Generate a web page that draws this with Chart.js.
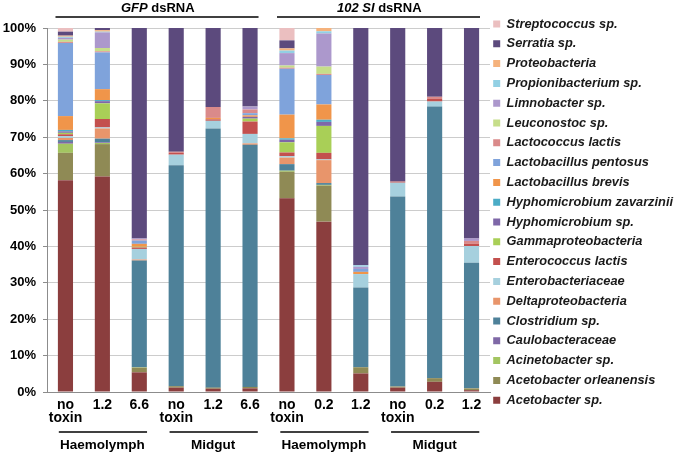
<!DOCTYPE html>
<html>
<head>
<meta charset="utf-8">
<script src="https://cdn.jsdelivr.net/npm/chart.js@4.4.1/dist/chart.umd.min.js"></script>
<style>
  html, body { margin: 0; padding: 0; background: #fff; }
  #wrap { width: 677px; height: 454px; }
</style>
</head>
<body>
<div id="wrap"><canvas id="chart" width="677" height="454"></canvas></div>
<script>
// Category labels (x axis)
const categories = [
  ['no', 'toxin'], '1.2', '6.6',
  ['no', 'toxin'], '1.2', '6.6',
  ['no', 'toxin'], '0.2', '1.2',
  ['no', 'toxin'], '0.2', '1.2'
];

// Group labels
const treatmentNames = [['GFP', ' dsRNA'], ['102 SI', ' dsRNA']];
const treatmentSpans = [[0, 5], [6, 11]];
const tissueNames = ['Haemolymph', 'Midgut', 'Haemolymph', 'Midgut'];
const tissueSpans = [[0, 2], [3, 5], [6, 8], [9, 11]];

// Y ticks
const yTicks = [0, 10, 20, 30, 40, 50, 60, 70, 80, 90, 100];

// Relative abundance (%) per bar, stack order bottom -> top
const acetobacterSp        = [58.2, 59.2, 5.4, 1.2, 0.9, 1.0, 53.2, 46.8, 5.1, 1.2, 2.8, 0.5];
const acetobacterOrleanens = [7.5, 8.9, 1.3, 0.4, 0.3, 0.4, 7.3, 9.9, 1.7, 0.3, 1.0, 0.5];
const acinetobacterSp      = [2.5, 0.3, 0.1, 0, 0, 0, 0.3, 0.2, 0, 0, 0, 0];
const caulobacteraceae     = [0.5, 0.2, 0, 0, 0, 0, 0, 0, 0, 0, 0, 0];
const clostridiumSp        = [0.5, 1.0, 29.3, 60.7, 71.2, 66.5, 1.8, 0.5, 21.9, 52.2, 74.6, 34.5];
const deltaproteobacteria  = [0.6, 2.8, 0.3, 0, 0, 0.4, 1.8, 6.3, 0, 0, 0, 0];
const enterobacteriaceae   = [0.5, 0.3, 2.9, 2.9, 2.1, 2.6, 0.4, 0.2, 3.7, 3.8, 1.4, 4.6];
const enterococcusLactis   = [0.5, 2.3, 0.4, 0.5, 0.4, 3.4, 1.0, 1.8, 0, 0.3, 0.7, 0.6];
const gammaproteobacteria  = [0.4, 4.3, 0.2, 0, 0, 0.8, 2.8, 7.4, 0, 0, 0, 0];
const hyphomicrobiumSp     = [0.4, 0.6, 0, 0, 0, 0.5, 0.7, 1.1, 0, 0, 0, 0];
const hyphoZavarzinii      = [0.4, 0.3, 0, 0, 0, 0, 0.4, 0.6, 0, 0, 0, 0];
const lactobacillusBrevis  = [3.8, 3.0, 0.8, 0, 0.4, 0.4, 6.5, 4.2, 0.6, 0, 0, 0];
const lactobacillusPent    = [20.1, 10.1, 0.9, 0, 0, 0.6, 12.6, 8.1, 0.8, 0, 0, 0];
const lactococcusLactis    = [0.3, 0.3, 0.3, 0.3, 3.0, 1.0, 0.3, 0.3, 0, 0, 0.6, 0.8];
const leuconostocSp        = [0.6, 0.9, 0, 0, 0, 0, 0.6, 2.0, 0, 0, 0, 0];
const limnobacterSp        = [0.5, 4.3, 0.3, 0, 0, 0.8, 3.4, 9.1, 0.6, 0, 0, 0.7];
const propionibacteriumSp  = [0.3, 0.2, 0, 0, 0, 0, 0.7, 0.6, 0.4, 0, 0, 0];
const proteobacteria       = [0.3, 0.4, 0, 0, 0, 0, 0.6, 0.9, 0, 0, 0, 0];
const serratiaSp           = [1.1, 0.6, 57.8, 34.0, 21.7, 21.6, 2.2, 0, 65.2, 42.2, 18.9, 57.8];
const streptococcusSp      = [1.0, 0, 0, 0, 0, 0, 3.4, 0, 0, 0, 0, 0];

const seriesNames = [
  'Acetobacter sp.', 'Acetobacter orleanensis', 'Acinetobacter sp.', 'Caulobacteraceae',
  'Clostridium sp.', 'Deltaproteobacteria', 'Enterobacteriaceae', 'Enterococcus lactis',
  'Gammaproteobacteria', 'Hyphomicrobium sp.', 'Hyphomicrobium zavarzinii', 'Lactobacillus brevis',
  'Lactobacillus pentosus', 'Lactococcus lactis', 'Leuconostoc sp.', 'Limnobacter sp.',
  'Propionibacterium sp.', 'Proteobacteria', 'Serratia sp.', 'Streptococcus sp.'
];
const seriesValues = [
  acetobacterSp, acetobacterOrleanens, acinetobacterSp, caulobacteraceae,
  clostridiumSp, deltaproteobacteria, enterobacteriaceae, enterococcusLactis,
  gammaproteobacteria, hyphomicrobiumSp, hyphoZavarzinii, lactobacillusBrevis,
  lactobacillusPent, lactococcusLactis, leuconostocSp, limnobacterSp,
  propionibacteriumSp, proteobacteria, serratiaSp, streptococcusSp
];
const seriesColors = [
  '#8B3E3E', '#8F8A55', '#A3C561', '#7F68A6',
  '#4E8199', '#E8956B', '#A6D0DE', '#C3504E',
  '#A9CF57', '#7E67A8', '#4BACC6', '#F0954A',
  '#7FA3DB', '#DA8A8A', '#C6DE8A', '#AC98CC',
  '#92D0E4', '#F5B27C', '#5C4A7D', '#EBBFC0'
];

const FONT = '"Liberation Sans", Arial, sans-serif';

// Nudge the legend's left edge a little so the long names fit
const legendShift = {
  id: 'legendShift',
  afterLayout(chart) {
    if (chart.legend) {
      chart.legend.left -= 3.8;
      chart.legend.width += 3.8;
    }
  }
};

// Draw treatment / tissue group labels with their bracket lines
const groupLabels = {
  id: 'groupLabels',
  afterDraw(chart) {
    const ctx = chart.ctx;
    const xs = chart.scales.x;
    const step = xs.getPixelForValue(1) - xs.getPixelForValue(0);
    ctx.save();
    ctx.strokeStyle = '#000';
    ctx.fillStyle = '#000';
    ctx.lineWidth = 1.5;
    ctx.textBaseline = 'middle';

    // top: treatments
    treatmentSpans.forEach((span, i) => {
      const x0 = xs.getPixelForValue(span[0]) - step * 0.27;
      const x1 = xs.getPixelForValue(span[1]) + step * 0.23;
      ctx.beginPath();
      ctx.moveTo(x0, 17);
      ctx.lineTo(x1, 17);
      ctx.stroke();
      const [italicPart, plainPart] = treatmentNames[i];
      ctx.font = 'italic bold 13px ' + FONT;
      const w1 = ctx.measureText(italicPart).width;
      ctx.font = 'bold 13px ' + FONT;
      const w2 = ctx.measureText(plainPart).width;
      const start = (xs.getPixelForValue(span[0]) + xs.getPixelForValue(span[1])) / 2 - (w1 + w2) / 2;
      ctx.textAlign = 'left';
      ctx.font = 'italic bold 13px ' + FONT;
      ctx.fillText(italicPart, start, 8.5);
      ctx.font = 'bold 13px ' + FONT;
      ctx.fillText(plainPart, start + w1, 8.5);
    });

    // bottom: tissues
    ctx.font = 'bold 13.5px ' + FONT;
    ctx.textAlign = 'center';
    tissueSpans.forEach((span, i) => {
      const x0 = xs.getPixelForValue(span[0]) - step * 0.18;
      const x1 = xs.getPixelForValue(span[1]) + step * 0.21;
      ctx.beginPath();
      ctx.moveTo(x0, 432);
      ctx.lineTo(x1, 432);
      ctx.stroke();
      const mid = (xs.getPixelForValue(span[0]) + xs.getPixelForValue(span[1])) / 2;
      ctx.fillText(tissueNames[i], mid, 445.5);
    });
    ctx.restore();
  }
};

const datasets = seriesNames.map((name, i) => ({
  label: name,
  data: seriesValues[i],
  backgroundColor: seriesColors[i],
  borderWidth: 0,
  categoryPercentage: 1.0,
  barPercentage: 0.41
}));

new Chart(document.getElementById('chart'), {
  type: 'bar',
  data: { labels: categories, datasets: datasets },
  plugins: [legendShift, groupLabels],
  options: {
    responsive: false,
    animation: false,
    layout: { padding: { top: 10.6, right: 0, bottom: 0, left: 0 } },
    plugins: {
      title: {
        display: true,
        text: '',
        fullSize: false,
        font: { size: 10, lineHeight: 1 },
        padding: { top: 0, bottom: 7.4 }
      },
      legend: {
        position: 'right',
        align: 'start',
        reverse: true,
        maxWidth: 187,
        labels: {
          boxWidth: 7,
          boxHeight: 7,
          padding: 7,
          color: '#1a1a1a',
          font: { family: FONT, size: 12.8, style: 'italic', weight: 'bold' }
        }
      },
      tooltip: { enabled: false }
    },
    scales: {
      x: {
        stacked: true,
        grid: { display: false, drawTicks: false },
        border: { display: true, color: '#8c8c8c', width: 1 },
        ticks: {
          color: '#000',
          maxRotation: 0,
          autoSkip: false,
          padding: 6,
          font: { family: FONT, size: 14, weight: 'bold', lineHeight: 0.95 }
        },
        afterFit(scale) { scale.height = 62; }
      },
      y: {
        stacked: true,
        min: 0,
        max: 100,
        afterBuildTicks(scale) { scale.ticks = yTicks.map(v => ({ value: v })); },
        grid: { color: '#cccccc', tickLength: 4, tickColor: '#8c8c8c' },
        border: { display: true, color: '#8c8c8c', width: 1 },
        ticks: {
          color: '#000',
          padding: 7,
          font: { family: FONT, size: 13, weight: 'bold' },
          callback: v => v + '%'
        },
        afterFit(scale) { scale.width = 47; }
      }
    }
  }
});
</script>
</body>
</html>
